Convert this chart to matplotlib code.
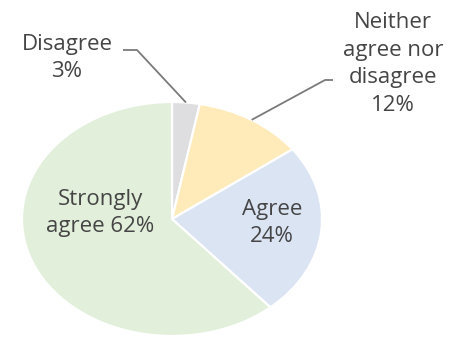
import numpy as np
import matplotlib
matplotlib.use("Agg")
import matplotlib.pyplot as plt

labels = ["Disagree", "Neither\nagree nor\ndisagree", "Agree", "Strongly\nagree"]
values = [3, 12, 24, 62]
colors = ["#DEDEE0", "#FFEBBA", "#DAE4F3", "#E2EFDA"]

plt.rcParams["font.family"] = ["Open Sans", "DejaVu Sans"]
W, H = 465, 339
fig = plt.figure(figsize=(W / 100, H / 100), dpi=100)

# pie is stretched horizontally in the reference: centre (172,219), rx 150, ry 117 px
cx, cy, rx, ry = 172, 219, 150, 117
ax = fig.add_axes([(cx - rx) / W, (H - cy - ry) / H, 2 * rx / W, 2 * ry / H])
wedges, _ = ax.pie(values, colors=colors, startangle=90, counterclock=False,
                   normalize=True,
                   wedgeprops=dict(edgecolor="white", linewidth=1.6))
ax.set_aspect("auto")
ax.set_xlim(-1, 1)
ax.set_ylim(-1, 1)

txt = "#454545"
fs = 16
ls = 1.42


def px(x, y):
    return (x - cx) / rx, (cy - y) / ry


def mid(w):
    a = np.deg2rad((w.theta1 + w.theta2) / 2)
    return np.cos(a), np.sin(a)


# outside labels with leader lines
outs = [
    (0, (67, 58), [(123, 50), (137, 50)]),
    (1, (393, 64), [(333, 80), (325, 80)]),
]
for i, tpos, elbow in outs:
    s = f"{labels[i]}\n{values[i]}%"
    ax.text(*px(*tpos), s, ha="center", va="center", color=txt, fontsize=fs,
            linespacing=ls, clip_on=False)
    mx, my = mid(wedges[i])
    pts = [px(*p) for p in elbow] + [(mx, my)]
    xs, ys = zip(*pts)
    ax.plot(xs, ys, color="#7a7a7a", lw=1.3, clip_on=False,
            solid_capstyle="butt")

# inside labels
ax.text(*px(100, 213), f"{labels[3]} {values[3]}%", ha="center", va="center",
        color=txt, fontsize=fs, linespacing=ls)
ax.text(*px(272, 223), f"{labels[2]}\n{values[2]}%", ha="center", va="center",
        color=txt, fontsize=fs, linespacing=ls)

fig.savefig("out.png", dpi=100)
